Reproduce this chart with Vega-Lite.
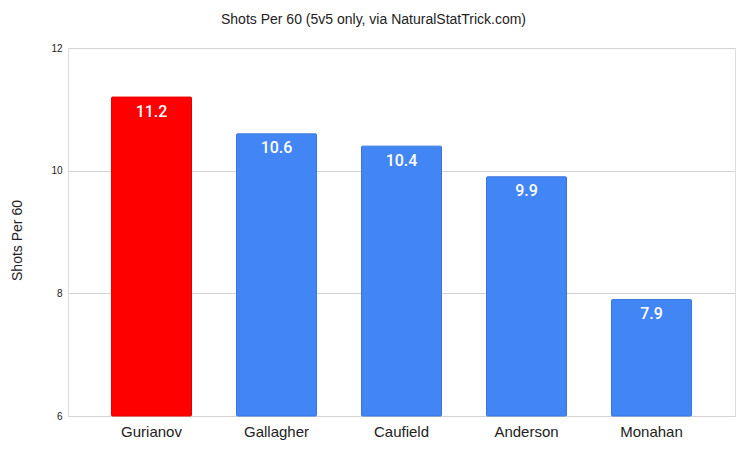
{
  "$schema": "https://vega.github.io/schema/vega-lite/v6.json",
  "autosize": "none",
  "width": 667,
  "height": 368,
  "padding": {"left": 68, "top": 48, "right": 5, "bottom": 36},
  "background": "white",
  "title": {
    "text": "Shots Per 60 (5v5 only, via NaturalStatTrick.com)",
    "font": "Liberation Sans",
    "fontSize": 14,
    "fontWeight": "normal",
    "color": "#222222",
    "anchor": "middle",
    "dx": -28,
    "offset": 16
  },
  "data": {
    "values": [
      {"player": "Gurianov", "shots": 11.2, "highlight": "yes"},
      {"player": "Gallagher", "shots": 10.6, "highlight": "no"},
      {"player": "Caufield", "shots": 10.4, "highlight": "no"},
      {"player": "Anderson", "shots": 9.9, "highlight": "no"},
      {"player": "Monahan", "shots": 7.9, "highlight": "no"}
    ]
  },
  "encoding": {
    "x": {
      "field": "player",
      "type": "nominal",
      "sort": null,
      "title": null,
      "scale": {"paddingInner": 0.36, "paddingOuter": 0.348},
      "axis": {
        "labelAngle": 0,
        "labelFont": "Liberation Sans",
        "labelFontSize": 15,
        "labelColor": "#222222",
        "labelPadding": 8,
        "ticks": false,
        "domain": false
      }
    },
    "y": {
      "field": "shots",
      "type": "quantitative",
      "title": "Shots Per 60",
      "scale": {"domain": [6, 12], "nice": false, "zero": false},
      "axis": {
        "values": [6, 8, 10, 12],
        "labelFont": "Liberation Sans",
        "labelFontSize": 10,
        "labelColor": "#222222",
        "labelPadding": 6,
        "ticks": false,
        "domain": false,
        "gridColor": "#d3d3d3",
        "gridWidth": 1,
        "titleFont": "Liberation Sans",
        "titleFontSize": 14,
        "titleFontWeight": "normal",
        "titleColor": "#222222",
        "titleX": -51,
        "titleY": 192,
        "titleAngle": -90,
        "titleAlign": "center",
        "titleBaseline": "middle"
      }
    }
  },
  "layer": [
    {
      "mark": {"type": "bar", "strokeWidth": 1, "cornerRadius": 1},
      "encoding": {
        "y2": {"datum": 6},
        "color": {
          "field": "highlight",
          "type": "nominal",
          "scale": {"domain": ["yes", "no"], "range": ["#ff0000", "#4285f4"]},
          "legend": null
        },
        "stroke": {
          "field": "highlight",
          "type": "nominal",
          "scale": {"domain": ["yes", "no"], "range": ["#e60000", "#3a77dc"]},
          "legend": null
        }
      }
    },
    {
      "mark": {
        "type": "text",
        "baseline": "alphabetic",
        "dy": 19.5,
        "font": "Roboto",
        "fontSize": 16,
        "fontWeight": 500,
        "color": "white"
      },
      "encoding": {
        "text": {"field": "shots", "type": "quantitative", "format": ".1f"}
      }
    }
  ]
}
